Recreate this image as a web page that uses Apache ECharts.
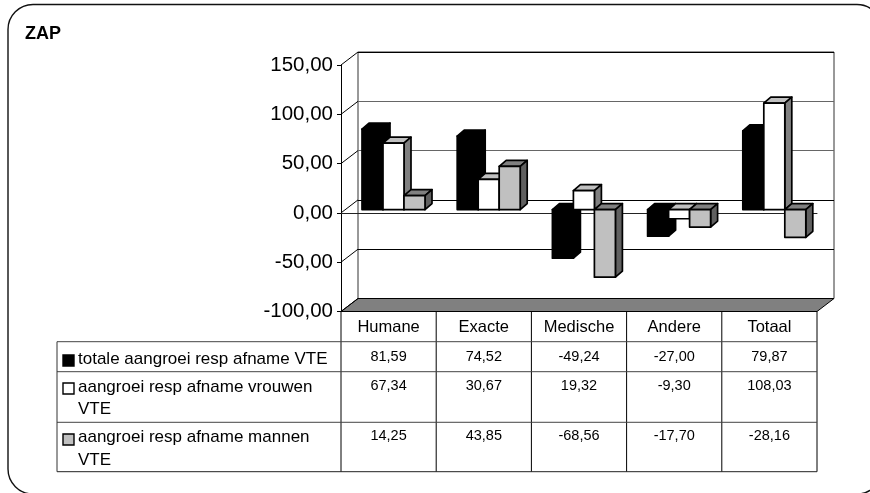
<!DOCTYPE html>
<html><head><meta charset="utf-8">
<style>html,body{margin:0;padding:0;background:#fff}#c{width:870px;height:493px}</style>
<script src="https://cdn.jsdelivr.net/npm/echarts@6/dist/echarts.min.js"></script>
</head><body><div id="c"></div>
<script>
const title = 'ZAP';
const categories = ['Humane','Exacte','Medische','Andere','Totaal'];
const seriesNames = ['totale aangroei resp afname VTE','aangroei resp afname vrouwen\nVTE','aangroei resp afname mannen\nVTE'];
const totale = [81.59,74.52,-49.24,-27.00,79.87];
const vrouwen = [67.34,30.67,19.32,-9.30,108.03];
const mannen = [14.25,43.85,-68.56,-17.70,-28.16];
const yTicks = [-100,-50,0,50,100,150];

const FONT = '"Liberation Sans", Arial, sans-serif';
const G = {left:341, top:65, width:476, height:246.5};
const DX = 17, DY = 13;
const barStyles = [
  {front:'#000000', top:'#000000', side:'#000000'},
  {front:'#ffffff', top:'#c0c0c0', side:'#808080'},
  {front:'#c0c0c0', top:'#808080', side:'#606060'}
];
const rowLines = [341.7,371.7,422.3,471.7];
const valueY = [357,385.5,436];
const legendY = [[359],[387.5,409],[437.5,460]];
const swatchY = [361,389,440];
const comma = v => v.toFixed(2).replace('.',',');

function barItem(si){
  return function(params, api){
    const i = api.value(0), v = api.value(1);
    const c = api.coord([i, v]), z = api.coord([i, 0]);
    const w = 21, x0 = z[0] - 26.6 + si*21, ox = 7, oy = 6, lift = 3.3;
    const yTop = Math.min(c[1], z[1]) - lift, yBot = Math.max(c[1], z[1]) - lift;
    const s = barStyles[si];
    const st = f => ({fill:f, stroke:'#000', lineWidth:1.7, lineJoin:'round'});
    return {type:'group', children:[
      {type:'polygon', shape:{points:[[x0,yTop],[x0+ox,yTop-oy],[x0+w+ox,yTop-oy],[x0+w,yTop]]}, style:st(s.top)},
      {type:'polygon', shape:{points:[[x0+w,yTop],[x0+w+ox,yTop-oy],[x0+w+ox,yBot-oy],[x0+w,yBot]]}, style:st(s.side)},
      {type:'rect', shape:{x:x0,y:yTop,width:w,height:yBot-yTop}, style:st(s.front)}
    ]};
  };
}

function frameItem(params, api){
  const cs = params.coordSys, x = cs.x, y = cs.y, w = cs.width, h = cs.height;
  const kids = [];
  kids.push({type:'polygon', shape:{points:[[x,y+h],[x+w,y+h],[x+w+DX,y+h-DY],[x+DX,y+h-DY]]},
    style:{fill:'#808080', stroke:'#000', lineWidth:1}});
  yTicks.forEach(t=>{
    const py = api.coord([0,t])[1];
    kids.push({type:'line', shape:{x1:x,y1:py,x2:x+DX,y2:py-DY}, style:{stroke:'#000', lineWidth:1}});
  });
  const band = api.size([1,0])[0];
  for(let k=0;k<=categories.length;k++){
    const lx = x + k*band;
    kids.push({type:'line', shape:{x1:lx,y1:y+h,x2:lx,y2:rowLines[3]}, style:{stroke:'#000', lineWidth:1}});
  }
  rowLines.forEach((ry,idx)=>{
    kids.push({type:'line', shape:{x1:57,y1:ry,x2:x+w,y2:ry}, style:{stroke:idx===3?'#222':'#444', lineWidth:1}});
  });
  kids.push({type:'line', shape:{x1:57,y1:rowLines[0],x2:57,y2:rowLines[3]}, style:{stroke:'#333', lineWidth:1}});
  return {type:'group', children:kids};
}

function tableItem(params, api){
  const kids = [];
  [totale,vrouwen,mannen].forEach((arr,r)=>{
    arr.forEach((v,i)=>{
      kids.push({type:'text', style:{text:comma(v), x:api.coord([i,0])[0], y:valueY[r],
        align:'center', verticalAlign:'middle', font:'14.5px '+FONT, fill:'#000'}});
    });
    kids.push({type:'rect', shape:{x:63,y:swatchY[r]-6,width:11,height:11},
      style:{fill:barStyles[r].front, stroke:'#000', lineWidth:1.4}});
    seriesNames[r].split('\n').forEach((line,li)=>{
      kids.push({type:'text', style:{text:line, x:78, y:legendY[r][li],
        align:'left', verticalAlign:'middle', font:'17px '+FONT, fill:'#000'}});
    });
  });
  return {type:'group', children:kids};
}

const chart = echarts.init(document.getElementById('c'), null, {renderer:'canvas'});
const barSeries = [totale,vrouwen,mannen].map((arr,si)=>({
  type:'custom', name:seriesNames[si], xAxisIndex:0, yAxisIndex:0, z:5+si,
  renderItem:barItem(si), encode:{x:0,y:1}, clip:false,
  data:arr.map((v,i)=>[i,v])
}));
chart.setOption({
  animation:false,
  backgroundColor:'#fff',
  textStyle:{fontFamily:FONT},
  title:{text:title, left:25, top:25, padding:0, textStyle:{fontFamily:FONT, fontSize:18, fontWeight:'bold', color:'#000'}},
  graphic:[{type:'rect', z:-1, silent:true, shape:{x:8,y:4.5,width:874,height:489.5,r:25},
    style:{fill:'#fff', stroke:'#111', lineWidth:1.4}}],
  grid:[
    Object.assign({}, G, {containLabel:false}),
    {left:G.left+DX, top:G.top-DY, width:G.width, height:G.height, show:true, borderColor:'#333', borderWidth:1, backgroundColor:'transparent'}
  ],
  xAxis:[
    {type:'category', gridIndex:0, data:categories, position:'bottom', axisLine:{show:false,onZero:false}, axisTick:{show:false},
     axisLabel:{fontSize:16.5, margin:7, color:'#000', fontFamily:FONT, interval:0}},
    {type:'category', gridIndex:0, data:categories, axisLine:{show:true,onZero:true,lineStyle:{color:'#222',width:1}}, axisTick:{show:false}, axisLabel:{show:false}},
    {type:'category', gridIndex:1, data:categories, axisLine:{show:false}, axisTick:{show:false}, axisLabel:{show:false}}
  ],
  yAxis:[
    {type:'value', gridIndex:0, min:-100, max:150, interval:50, axisLine:{show:true,lineStyle:{color:'#000'}},
     axisTick:{show:true,length:4,lineStyle:{color:'#000'}}, splitLine:{show:false},
     axisLabel:{fontSize:20.5, margin:8, color:'#000', fontFamily:FONT, formatter:v=>comma(v)}},
    {type:'value', gridIndex:1, min:-100, max:150, interval:50, axisLine:{show:false}, axisTick:{show:false}, axisLabel:{show:false},
     splitLine:{show:true,lineStyle:{color:['#000','#000','#000','#666','#666','#000'],width:1}}}
  ],
  series:[
    {type:'custom', name:'frame', xAxisIndex:0, yAxisIndex:0, z:3, silent:true, renderItem:frameItem, encode:{x:0,y:1}, data:[[0,0]], clip:false},
    ...barSeries,
    {type:'custom', name:'table', xAxisIndex:0, yAxisIndex:0, z:9, silent:true, renderItem:tableItem, encode:{x:0,y:1}, data:[[0,0]], clip:false}
  ]
});
</script></body></html>
